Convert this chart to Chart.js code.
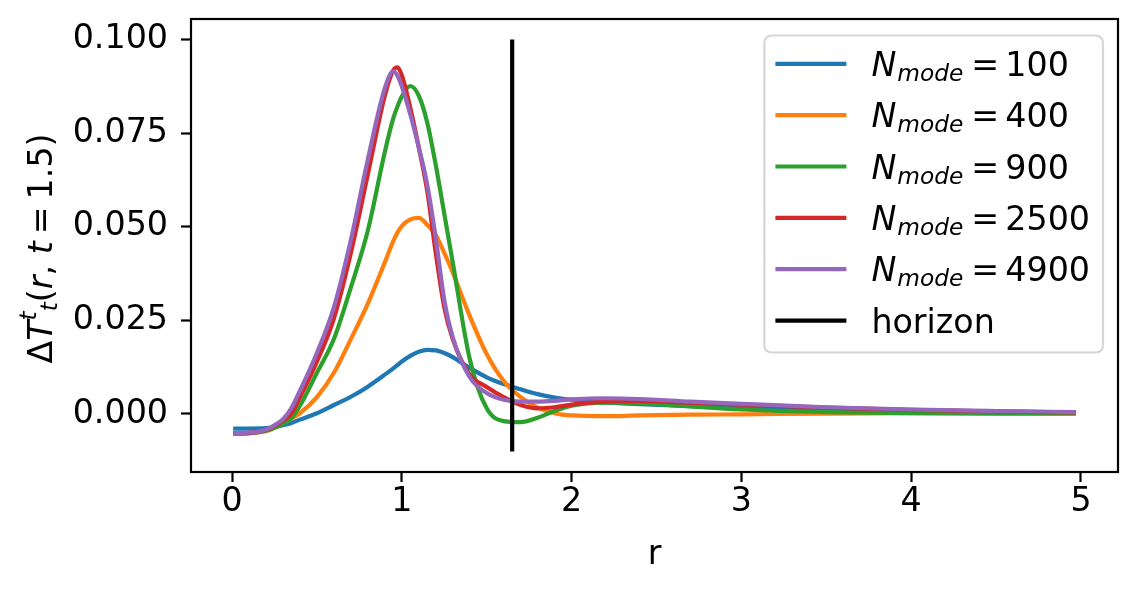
<!DOCTYPE html>
<html>
<head>
<meta charset="utf-8">
<script src="https://cdn.jsdelivr.net/npm/chart.js@4.4.1/dist/chart.umd.min.js"></script>
<style>
  html, body { margin: 0; padding: 0; background: #fff; }
  #wrap { width: 1139px; height: 589px; }
</style>
</head>
<body>
<div id="wrap"><canvas id="profileChart" width="1139" height="589"></canvas></div>
<script>
'use strict';
// ─────────────────────────────────────────────
//  DATA
// ─────────────────────────────────────────────

const R_VALUES = [0.007, 0.1, 0.2, 0.25, 0.3, 0.35, 0.4, 0.5, 0.6, 0.7, 0.8, 0.9, 0.95, 0.975, 1.0, 1.05, 1.1,
  1.15, 1.2, 1.25, 1.3, 1.4, 1.5, 1.6, 1.7, 1.8, 1.9, 2.0, 2.2, 2.4, 2.7, 3.0, 3.5, 4.0, 4.5, 4.97];

const N100 = [-0.0039, -0.0039, -0.0038, -0.0035, -0.0030, -0.0024, -0.0015, 0.0002, 0.0024, 0.0046, 0.0073,
  0.0105, 0.0122, 0.0131, 0.0140, 0.0155, 0.0166, 0.0171, 0.0170, 0.0163, 0.0152, 0.0123, 0.0098, 0.0080,
  0.0066, 0.0053, 0.0044, 0.0038, 0.0031, 0.0026, 0.0021, 0.0017, 0.0012, 0.0008, 0.0006, 0.0004];

const N400 = [-0.0052, -0.0051, -0.0046, -0.0037, -0.0026, -0.0012, 0.0002, 0.0045, 0.0110, 0.0200, 0.0295,
  0.0405, 0.0462, 0.0485, 0.0502, 0.0520, 0.0524, 0.0505, 0.0478, 0.0430, 0.0378, 0.0262, 0.0160, 0.0088,
  0.0045, 0.0017, 0.0002, -0.0004, -0.0006, -0.0004, -0.0002, -0.0001, 0.0001, 0.0002, 0.0002, 0.0002];

const N900 = [-0.0052, -0.0051, -0.0045, -0.0037, -0.0026, -0.0011, 0.0022, 0.0110, 0.0200, 0.0338, 0.0490,
  0.0700, 0.0790, 0.0822, 0.0848, 0.0876, 0.0850, 0.0778, 0.0665, 0.0535, 0.0405, 0.0147, 0.0015, -0.0019,
  -0.0022, -0.0010, 0.0008, 0.0022, 0.0030, 0.0029, 0.0020, 0.0012, 0.0005, 0.0002, 0.0001, 0.0001];

const N2500 = [-0.0052, -0.0051, -0.0043, -0.0032, -0.0018, 0.0002, 0.0045, 0.0140, 0.0255, 0.0430, 0.0640,
  0.0850, 0.0918, 0.0926, 0.0905, 0.0818, 0.0712, 0.0595, 0.0430, 0.0285, 0.0200, 0.0105, 0.0072, 0.0045,
  0.0024, 0.0015, 0.0018, 0.0025, 0.0033, 0.0034, 0.0030, 0.0025, 0.0017, 0.0011, 0.0007, 0.0004];

const N4900 = [-0.0051, -0.0050, -0.0042, -0.0030, -0.0014, 0.0016, 0.0062, 0.0163, 0.0285, 0.0465, 0.0680,
  0.0870, 0.0915, 0.0903, 0.0875, 0.0800, 0.0712, 0.0612, 0.0470, 0.0305, 0.0205, 0.0098, 0.0056, 0.0038,
  0.0033, 0.0033, 0.0035, 0.0039, 0.0042, 0.0040, 0.0033, 0.0027, 0.0018, 0.0012, 0.0008, 0.0005];

const MODE_LABELS = ['100', '400', '900', '2500', '4900'];
const HORIZON_R = 1.65;
const HORIZON_Y = [-0.01, 0.1];

const X_TICKS = [0, 1, 2, 3, 4, 5];
const Y_TICKS = [0, 0.025, 0.05, 0.075, 0.1];

// ─────────────────────────────────────────────
//  STYLE
// ─────────────────────────────────────────────

const FAM = '"DejaVu Sans", sans-serif';
const BIG = 33.3;
const SMALL = 23.3;
const LINE_W = 4.2;
const FRAME_W = 2.2;
const SERIES_COLORS = ['#1f77b4', '#ff7f0e', '#2ca02c', '#d62728', '#9467bd'];

const seriesValues = [N100, N400, N900, N2500, N4900];

function toPoints(vals) {
  return R_VALUES.map((r, i) => ({ x: r, y: vals[i] }));
}

const datasets = seriesValues.map((vals, i) => ({
  label: 'N_mode = ' + MODE_LABELS[i],
  mode: MODE_LABELS[i],
  data: toPoints(vals),
  borderColor: SERIES_COLORS[i],
  backgroundColor: 'transparent',
  borderWidth: LINE_W,
  pointRadius: 0,
  cubicInterpolationMode: 'monotone',
  order: seriesValues.length - i,
}));

datasets.push({
  label: 'horizon',
  data: HORIZON_Y.map(y => ({ x: HORIZON_R, y })),
  borderColor: '#000',
  backgroundColor: 'transparent',
  borderWidth: LINE_W,
  pointRadius: 0,
  order: 0,
});

// draw a run of text pieces with their own fonts/offsets; returns width
function runText(ctx, parts, x, y, draw) {
  let cx = x;
  parts.forEach(p => {
    ctx.font = p.f;
    if (draw) ctx.fillText(p.t, cx, y + (p.dy || 0));
    cx += ctx.measureText(p.t).width + (p.gap || 0);
  });
  return cx - x;
}

const up = `${BIG}px ${FAM}`;
const it = `italic ${BIG}px ${FAM}`;
const itSmall = `italic ${SMALL}px ${FAM}`;

function legendParts(ds) {
  if (!ds.mode) return [{ t: 'horizon', f: up }];
  return [
    { t: 'N', f: it, gap: 1 },
    { t: 'mode', f: itSmall, dy: 5, gap: 8 },
    { t: '=', f: up, gap: 6 },
    { t: ds.mode, f: up },
  ];
}

const decorPlugin = {
  id: 'decor',
  afterDatasetsDraw(chart) {
    const { ctx, chartArea: ca } = chart;
    ctx.save();
    ctx.strokeStyle = '#000';
    ctx.lineWidth = FRAME_W;
    ctx.strokeRect(ca.left, ca.top, ca.right - ca.left, ca.bottom - ca.top);
    ctx.restore();
  },
  afterDraw(chart) {
    const { ctx, chartArea: ca } = chart;
    const dsList = chart.data.datasets;

    // legend
    ctx.save();
    ctx.textBaseline = 'alphabetic';
    ctx.fillStyle = '#000';
    let maxW = 0;
    dsList.forEach(ds => { maxW = Math.max(maxW, runText(ctx, legendParts(ds), 0, 0, false)); });
    const boxW = 11 + 71 + 25 + maxW + 13;
    const boxH = 317;
    const bx = ca.right - 15 - boxW;
    const by = ca.top + 16.5;
    ctx.beginPath();
    ctx.roundRect(bx, by, boxW, boxH, 7);
    ctx.fillStyle = 'rgba(255,255,255,0.8)';
    ctx.fill();
    ctx.strokeStyle = '#d6d6d6';
    ctx.lineWidth = FRAME_W;
    ctx.stroke();

    dsList.forEach((ds, i) => {
      const rowY = by + 28.3 + i * 51.35;
      ctx.beginPath();
      ctx.moveTo(bx + 11, rowY);
      ctx.lineTo(bx + 82, rowY);
      ctx.strokeStyle = ds.borderColor;
      ctx.lineWidth = LINE_W;
      ctx.stroke();
      ctx.fillStyle = '#000';
      runText(ctx, legendParts(ds), bx + 107, rowY + 12.2, true);
    });
    ctx.restore();

    // y-axis title, rotated
    const title = [
      { t: 'Δ', f: up },
      { t: 'T', f: it },
      { t: 't', f: itSmall, dy: -16 },
      { t: 't', f: itSmall, dy: 5 },
      { t: '(', f: up },
      { t: 'r', f: it },
      { t: ', ', f: up },
      { t: 't', f: it, gap: 7 },
      { t: '=', f: up, gap: 7 },
      { t: '1.5)', f: up },
    ];
    ctx.save();
    ctx.fillStyle = '#000';
    ctx.textBaseline = 'alphabetic';
    const w = runText(ctx, title, 0, 0, false);
    ctx.translate(52, 248.5);
    ctx.rotate(-Math.PI / 2);
    runText(ctx, title, -w / 2, 0, true);
    ctx.restore();
  },
};

const tickFont = { family: FAM, size: BIG };
const axisGrid = {
  drawOnChartArea: false,
  drawTicks: true,
  tickLength: 10,
  tickColor: '#000',
  tickWidth: FRAME_W,
};

new Chart(document.getElementById('profileChart'), {
  type: 'line',
  data: { datasets },
  options: {
    responsive: false,
    animation: false,
    devicePixelRatio: 1,
    layout: { padding: { left: 0, right: 21, top: 19, bottom: 0 } },
    plugins: {
      legend: { display: false },
      tooltip: { enabled: false },
    },
    scales: {
      x: {
        type: 'linear',
        min: -0.2415,
        max: 5.218,
        afterBuildTicks: s => { s.ticks = X_TICKS.map(v => ({ value: v })); },
        afterFit: s => { s.height = 117; s.paddingLeft = 0; s.paddingRight = 0; },
        ticks: {
          color: '#000',
          font: tickFont,
          padding: 0,
          maxRotation: 0,
          callback: v => String(v),
        },
        grid: axisGrid,
        border: { display: false },
        title: {
          display: true,
          text: 'r',
          color: '#000',
          font: tickFont,
          padding: { top: 0, bottom: 14 },
        },
      },
      y: {
        min: -0.0155,
        max: 0.1055,
        afterBuildTicks: s => { s.ticks = Y_TICKS.map(v => ({ value: v })); },
        afterFit: s => { s.width = 191; s.paddingTop = 0; s.paddingBottom = 0; },
        ticks: {
          color: '#000',
          font: tickFont,
          padding: 13,
          callback: v => v.toFixed(3),
        },
        grid: axisGrid,
        border: { display: false },
      },
    },
  },
  plugins: [decorPlugin],
});
</script>
</body>
</html>
